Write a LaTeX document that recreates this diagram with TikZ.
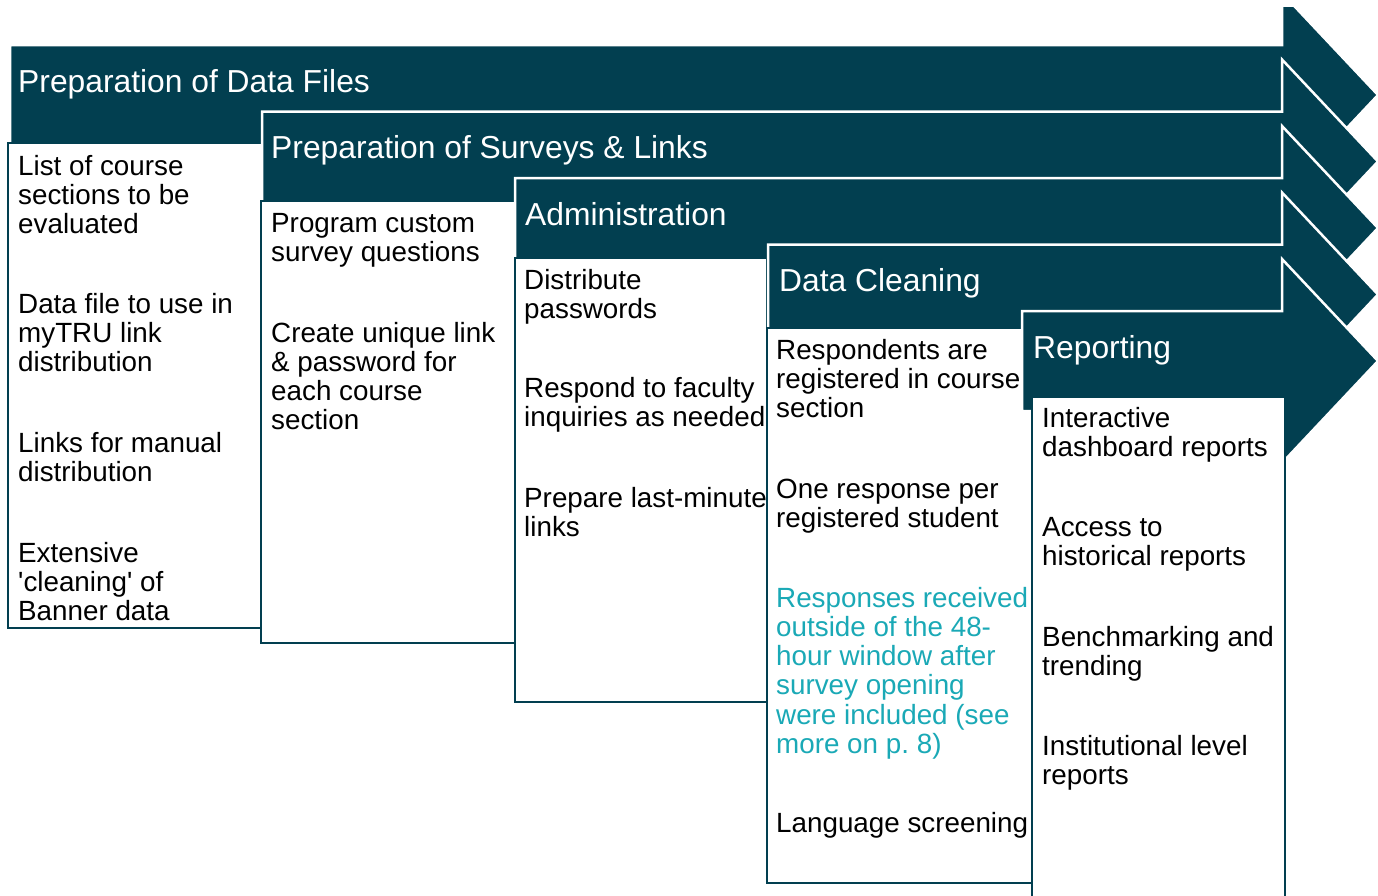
\documentclass[tikz,border=0pt]{standalone}
\usepackage{fontspec}
\setmainfont{Liberation Sans}[Ligatures=TeXOff]
\frenchspacing
\definecolor{teal0}{RGB}{2,63,80}
\definecolor{cyan0}{RGB}{26,169,182}
\tikzset{
  arrowshape/.style={fill=teal0, draw=white, line width=2.5pt, line join=miter},
  boxshape/.style={fill=white, draw=teal0, line width=2.5pt},
  titletext/.style={anchor=base west, inner sep=0pt, text=white, font=\fontsize{31.8}{36}\selectfont},
  itemtext/.style={anchor=north west, inner sep=0pt, align=left, font=\fontsize{27.8}{29.2}\selectfont},
  cyantext/.style={itemtext, text=cyan0},
}
\newcommand\stepArrow[3]{% left x, top y, name
  \path[arrowshape] (#1,#2) -- (1282,#2) -- (1282,#2+50-102) -- (1378,#2+50)
    -- (1282,#2+50+102) -- (1282,#2+100) -- (#1,#2+100) -- cycle;
}
\newcommand\strt{\rule{0pt}{21pt}}
\begin{document}
\begin{tikzpicture}[x=1pt,y=-1pt]
\useasboundingbox (0,0) rectangle (1378,895);
\begin{scope}
\clip (0,7) rectangle (1378,895);
% stage 1
\stepArrow{10}{45}{a1}
\node[titletext] (t1) at (18,92) {Preparation of Data Files};
\path[boxshape] (8,143) rectangle (262,628);
\node[itemtext] (i11) at (18,154) {\strt List of course\\sections to be\\evaluated};
\node[itemtext] (i12) at (18,292) {\strt Data file to use in\\myTRU link\\distribution};
\node[itemtext] (i13) at (18,431) {\strt Links for manual\\distribution};
\node[itemtext] (i14) at (18,541) {\strt Extensive\\'cleaning' of\\Banner data};
% stage 2
\stepArrow{262}{111.5}{a2}
\node[titletext] (t2) at (271,158.5) {Preparation of Surveys \& Links};
\path[boxshape] (261,201) rectangle (515,643);
\node[itemtext] (i21) at (271,211) {\strt Program custom\\survey questions};
\node[itemtext] (i22) at (271,321) {\strt Create unique link\\\& password for\\each course\\section};
% stage 3
\stepArrow{515}{178}{a3}
\node[titletext] (t3) at (525,225) {Administration};
\path[boxshape] (515,258) rectangle (767,702);
\node[itemtext] (i31) at (524,268) {\strt Distribute\\passwords};
\node[itemtext] (i32) at (524,376) {\strt Respond to faculty\\inquiries as needed};
\node[itemtext] (i33) at (524,486) {\strt Prepare last-minute\\links};
% stage 4
\stepArrow{768}{244.5}{a4}
\node[titletext] (t4) at (779,291.5) {Data Cleaning};
\path[boxshape] (767,328) rectangle (1032,883);
\node[itemtext] (i41) at (776,338) {\strt Respondents are\\registered in course\\section};
\node[itemtext] (i42) at (776,477) {\strt One response per\\registered student};
\node[cyantext] (i43) at (776,586) {\strt Responses received\\outside of the 48-\\hour window after\\survey opening\\were included (see\\more on p. 8)};
\node[itemtext] (i44) at (776,811) {\strt Language screening};
% stage 5
\stepArrow{1022}{311}{a5}
\node[titletext] (t5) at (1033,358) {Reporting};
\path[boxshape] (1032,397) rectangle (1285,910);
\node[itemtext] (i51) at (1042,406) {\strt Interactive\\dashboard reports};
\node[itemtext] (i52) at (1042,515) {\strt Access to\\historical reports};
\node[itemtext] (i53) at (1042,625) {\strt Benchmarking and\\trending};
\node[itemtext] (i54) at (1042,734) {\strt Institutional level\\reports};
\end{scope}
\end{tikzpicture}
\end{document}
